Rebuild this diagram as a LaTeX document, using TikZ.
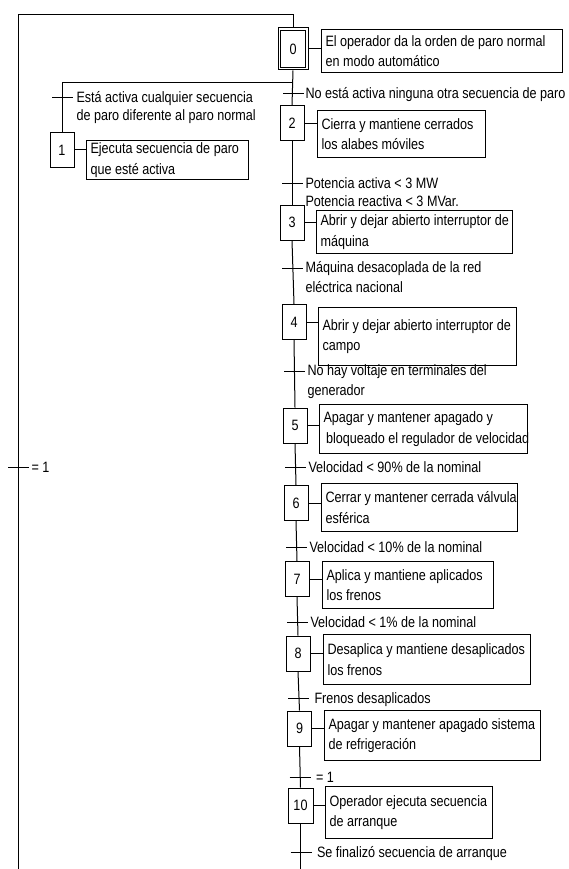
\documentclass[tikz,border=0pt]{standalone}
\usepackage{fontspec}
\setmainfont[FakeStretch=0.84]{Liberation Sans}
\begin{document}
\begin{tikzpicture}[x=1pt,y=-1pt,line width=1pt,
  every node/.style={font=\fontsize{15}{20.5}\selectfont},
  stepbox/.style={draw,minimum width=24pt,minimum height=35pt,inner sep=0pt},
  actbox/.style={draw,anchor=north west,inner sep=0pt},
  acttext/.style={anchor=west,align=left,inner sep=0pt,xshift=4pt},
  lbl/.style={anchor=base west,align=left,inner sep=0pt,yshift=-5pt},
  lbltwo/.style={anchor=base west,align=left,inner sep=0pt,yshift=-24.5pt},
  lbltight/.style={anchor=base west,align=left,inner sep=0pt,yshift=-23pt,
    font=\fontsize{15}{18}\selectfont},
  tick/.style={line width=1pt}]
\useasboundingbox (0,0) rectangle (568,869);
% steps
\node[stepbox,minimum width=30pt,minimum height=42pt] (s0) at (293,49) {0};
\draw ([shift={(3pt,-3pt)}]s0.north west) rectangle ([shift={(-3pt,3pt)}]s0.south east);
\node[stepbox] (s1) at (62,150) {1};
\node[stepbox] (s2) at (292,123.5) {2};
\node[stepbox] (s3) at (292,222.5) {3};
\node[stepbox] (s4) at (294,322) {4};
\node[stepbox] (s5) at (295,425.5) {5};
\node[stepbox] (s6) at (296,503) {6};
\node[stepbox] (s7) at (297,579) {7};
\node[stepbox] (s8) at (298,653.5) {8};
\node[stepbox] (s9) at (299.5,728.5) {9};
\node[stepbox,minimum width=25pt] (s10) at (300.5,805.5) {10};
% action boxes
\node[actbox,minimum width=241pt,minimum height=43pt] (a0) at (321,29) {};
\node[acttext] (a0t) at (a0.west) {El operador da la orden de paro normal\\en modo automático};
\node[actbox,minimum width=162pt,minimum height=39pt] (a1) at (86,140) {};
\node[acttext] (a1t) at (a1.west) {Ejecuta secuencia de paro\\que esté activa};
\node[actbox,minimum width=168pt,minimum height=47pt] (a2) at (317,110) {};
\node[acttext] (a2t) at (a2.west) {Cierra y mantiene cerrados\\los alabes móviles};
\node[actbox,minimum width=196pt,minimum height=43pt] (a3) at (316,210) {};
\node[acttext] (a3t) at (a3.west) {Abrir y dejar abierto interruptor de\\máquina};
\node[actbox,minimum width=198pt,minimum height=58pt] (a4) at (318,307) {};
\node[acttext] (a4t) at (a4.west) {Abrir y dejar abierto interruptor de\\campo};
\node[actbox,minimum width=208pt,minimum height=49pt] (a5) at (319,404) {};
\node[acttext] (a5t) at (a5.west) {Apagar y mantener apagado y\\\,bloqueado el regulador de velocidad};
\node[actbox,minimum width=196pt,minimum height=48pt] (a6) at (321,483) {};
\node[acttext] (a6t) at (a6.west) {Cerrar y mantener cerrada válvula\\esférica};
\node[actbox,minimum width=171pt,minimum height=47pt] (a7) at (322,561) {};
\node[acttext] (a7t) at (a7.west) {Aplica y mantiene aplicados\\los frenos};
\node[actbox,minimum width=207pt,minimum height=50pt] (a8) at (323,634) {};
\node[acttext] (a8t) at (a8.west) {Desaplica y mantiene desaplicados\\los frenos};
\node[actbox,minimum width=216pt,minimum height=50pt] (a9) at (324,710) {};
\node[acttext] (a9t) at (a9.west) {Apagar y mantener apagado sistema\\de refrigeración};
\node[actbox,minimum width=167pt,minimum height=52pt] (a10) at (325,786) {};
\node[acttext] (a10t) at (a10.west) {Operador ejecuta secuencia\\de arranque};
% links step -> action
\foreach \s in {0,1,2,3,4,5,6,7,8,9,10}
  \draw (s\s.east) -- (s\s.east -| a\s.west);
% outer loop
\coordinate (top) at (18,15);
\coordinate (bl) at (18,869);
\draw (s0.north) |- (top) -- (bl);
% divergence
\coordinate (dv) at (62,83);
\draw (s0.south) -- (s2.north);
\draw (s0.south |- dv) -- (dv) -- (s1.north);
% main chain
\draw (s2.south) -- (s3.north);
\draw (s3.south) -- (s4.north);
\draw (s4.south) -- (s5.north);
\draw (s5.south) -- (s6.north);
\draw (s6.south) -- (s7.north);
\draw (s7.south) -- (s8.north);
\draw (s8.south) -- (s9.north);
\draw (s9.south) -- (s10.north);
\coordinate (br) at (s10.south |- bl);
\draw (s10.south) -- (br);
% transitions
\coordinate (tA) at (s0.south |- 0,94);
\coordinate (tB) at (62,98);
\coordinate (tC) at (s2.south |- 0,183);
\coordinate (tD) at (s3.south |- 0,268);
\coordinate (tE) at (s4.south |- 0,371);
\coordinate (tF) at (s5.south |- 0,467);
\coordinate (tG) at (s6.south |- 0,547);
\coordinate (tH) at (s7.south |- 0,622);
\coordinate (tI) at (s8.south |- 0,698);
\coordinate (tJ) at (s9.south |- 0,777);
\coordinate (tK) at (s10.south |- 0,852);
\coordinate (tL) at (18,467);
\foreach \t in {A,B,C,D,E,F,G,H,I,J,K,L}
  \draw[tick] ([xshift=-10pt]t\t) -- ([xshift=11pt]t\t);
\node[lbl] (lA) at ([xshift=12pt]tA) {No está activa ninguna otra secuencia de paro};
\node[lbltight] (lB) at ([xshift=14pt]tB) {Está activa cualquier secuencia\\de paro diferente al paro normal};
\node[lbltight] (lC) at ([xshift=13pt]tC) {Potencia activa < 3 MW\\Potencia reactiva < 3 MVar.};
\node[lbltwo] (lD) at ([xshift=13pt]tD) {Máquina desacoplada de la red\\eléctrica nacional};
\node[lbltwo] (lE) at ([xshift=13pt]tE) {No hay voltaje en terminales del\\generador};
\node[lbl] (lF) at ([xshift=13pt]tF) {Velocidad < 90\% de la nominal};
\node[lbl] (lG) at ([xshift=13pt]tG) {Velocidad < 10\% de la nominal};
\node[lbl] (lH) at ([xshift=13pt]tH) {Velocidad < 1\% de la nominal};
\node[lbl] (lI) at ([xshift=16pt]tI) {Frenos desaplicados};
\node[lbl] (lJ) at ([xshift=16pt]tJ) {= 1};
\node[lbl] (lK) at ([xshift=16pt]tK) {Se finalizó secuencia de arranque};
\node[lbl] (lL) at ([xshift=13pt]tL) {= 1};
\end{tikzpicture}
\end{document}
